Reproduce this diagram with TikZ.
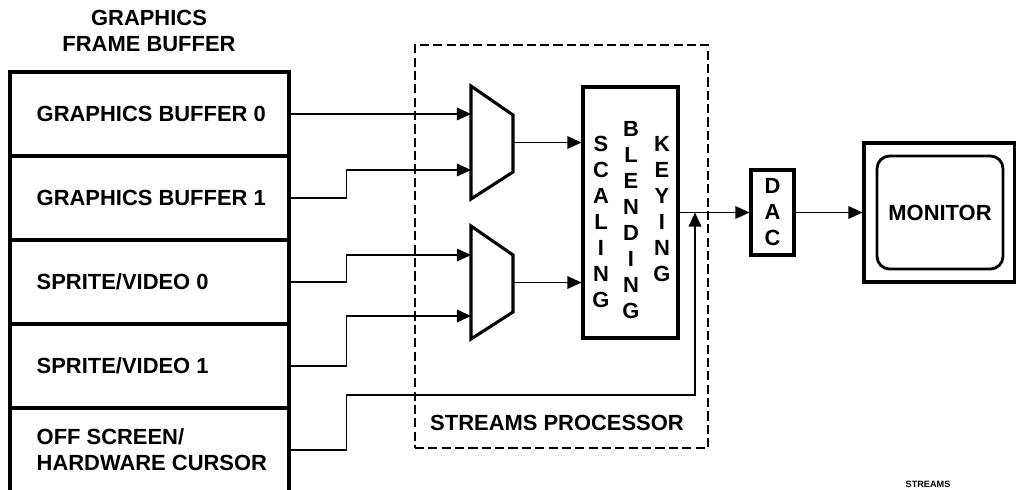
\documentclass[tikz,border=0pt]{standalone}
\usepackage{fontspec}
\setmainfont{Liberation Sans}
\usetikzlibrary{arrows.meta,calc}
\newcommand{\diagfont}{\fontsize{15.6}{18.5}\selectfont\bfseries}

\begin{document}
\begin{tikzpicture}[x=0.025cm, y=-0.025cm,
  rowbox/.style={draw, line width=2.2pt, minimum width=6.975cm,
                 minimum height=2.1cm, inner sep=0pt},
  rowtext/.style={anchor=west, xshift=0.7cm, align=left, inner sep=0pt,
                  font=\diagfont},
  vtext/.style={align=center, inner sep=0pt, font=\diagfont},
  blk/.style={draw, line width=2.2pt, inner sep=0pt},
  conn/.style={line width=0.9pt, -{Triangle[length=10pt,width=9pt]}},
  muxline/.style={line width=2.2pt, line join=miter},
  dashbox/.style={draw, line width=2pt, dash pattern=on 6.5pt off 3pt,
                  inner sep=0pt}
]
\useasboundingbox (0,0) rectangle (1016,489);

% Frame buffer stack
\node[vtext] (fbtitle) at (149,31) {GRAPHICS\\FRAME BUFFER};
\node[rowbox] (gb0) at (149.5,114) {};
\node[rowbox] (gb1) at (149.5,198) {};
\node[rowbox] (sv0) at (149.5,282) {};
\node[rowbox] (sv1) at (149.5,366) {};
\node[rowbox] (off) at (149.5,450) {};
\node[rowtext] (gb0t) at (gb0.west) {GRAPHICS BUFFER 0};
\node[rowtext] (gb1t) at (gb1.west) {GRAPHICS BUFFER 1};
\node[rowtext] (sv0t) at (sv0.west) {SPRITE/VIDEO 0};
\node[rowtext] (sv1t) at (sv1.west) {SPRITE/VIDEO 1};
\node[rowtext] (offt) at (off.west) {OFF SCREEN/\\HARDWARE CURSOR};

% Streams processor
\node[dashbox, minimum width=7.325cm, minimum height=10.075cm] (sp) at (561.5,246.5) {};
\node[font=\diagfont, inner sep=0pt] (splabel) at (557,423) {STREAMS PROCESSOR};

% Muxes
\foreach \m/\t/\a/\b in {mux1/86/114/170, mux2/226/255/316}{
  \draw[muxline] (471,\t) -- (513,\t+29) -- (513,\t+86) -- (471,\t+113) -- cycle;
  \coordinate (\m-i0) at (471,\a);
  \coordinate (\m-i1) at (471,\b);
  \coordinate (\m-o) at (513,\t+56.5);
}

% Scaling / blending / keying
\node[blk, minimum width=2.375cm, minimum height=6.275cm] (blend) at (630.5,212.5) {};
\node[vtext] (scaling) at (601,222) {S\\C\\A\\L\\I\\N\\G};
\node[vtext] (blending) at (631,220) {B\\L\\E\\N\\D\\I\\N\\G};
\node[vtext] (keying) at (662,209) {K\\E\\Y\\I\\N\\G};

% DAC and monitor
\node[blk, vtext, minimum width=1.075cm, minimum height=2.125cm] (dac) at (772.5,212.5) {D\\A\\C};
\node[blk, minimum width=3.775cm, minimum height=3.475cm] (monitor) at (939.5,212.5) {};
\node[draw, line width=2pt, rounded corners=9pt, minimum width=3.15cm,
      minimum height=2.825cm, font=\diagfont] (screen) at (940,212.5) {MONITOR};

% Connectors
\coordinate (tap) at (695,212.5);
\draw[conn] (gb0.east) -- (mux1-i0);
\draw[conn] (gb1.east) -- ++(56,0) |- (mux1-i1);
\draw[conn] (sv0.east) -- ++(56,0) |- (mux2-i0);
\draw[conn] (sv1.east) -- ++(56,0) |- (mux2-i1);
\draw[conn] (off.east) -- ++(56,0) -- ++(0,-55) -| (tap);
\draw[conn] (mux1-o) -- (mux1-o -| blend.west);
\draw[conn] (mux2-o) -- (mux2-o -| blend.west);
\draw[conn] (blend) -- (dac);
\draw[conn] (dac) -- (monitor);

\node[font=\fontsize{6.5}{7}\selectfont\bfseries, anchor=base] (tag) at (928,487) {STREAMS};
\end{tikzpicture}
\end{document}
